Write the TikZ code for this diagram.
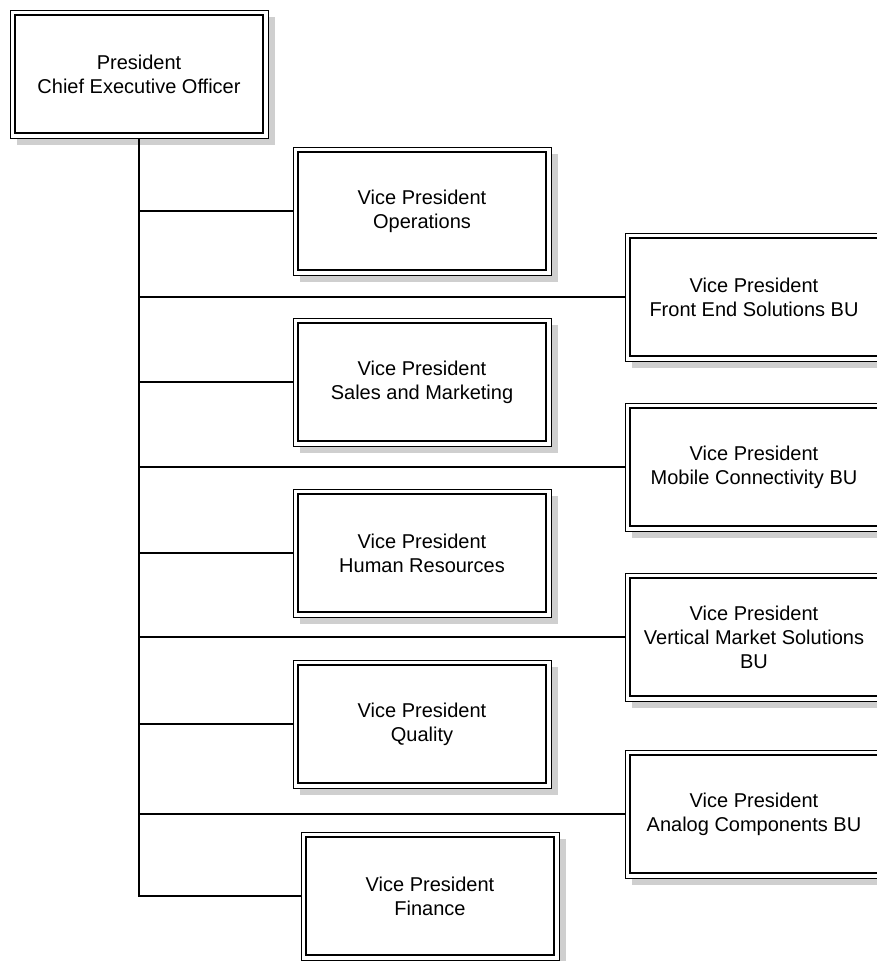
\documentclass[tikz,border=0pt]{standalone}
\usepackage{fontspec}
\setmainfont{Liberation Sans}
\usetikzlibrary{shadows}

\tikzset{
  vpbox/.style={draw, fill=white, line width=1pt,
    minimum width=258pt, minimum height=128pt, inner sep=0pt, outer sep=0.5pt,
    align=center, font=\fontsize{20}{24}\selectfont,
    path picture={\draw[line width=2pt]
      ([shift={(5pt,5pt)}]path picture bounding box.south west) rectangle
      ([shift={(-5pt,-5pt)}]path picture bounding box.north east);},
    drop shadow={shadow xshift=7pt, shadow yshift=-7pt, fill=black!19, opacity=1}},
  branch/.style={line width=1.5pt}
}

\begin{document}
\begin{tikzpicture}[x=1pt,y=-1pt]
\useasboundingbox (0,0) rectangle (876,961);

% draw boxes
\node[vpbox] (ceo) at (139,74) {President\\Chief Executive Officer};
\node[vpbox] (ops) at (422,211) {Vice President\\Operations};
\node[vpbox] (fes) at (754,297) {Vice President\\Front End Solutions BU};
\node[vpbox] (sales) at (422,382) {Vice President\\Sales and Marketing};
\node[vpbox] (mob) at (754,467) {Vice President\\Mobile Connectivity BU};
\node[vpbox] (hr) at (422,553) {Vice President\\Human Resources};
\node[vpbox] (vms) at (754,637) {Vice President\\Vertical Market Solutions\\BU};
\node[vpbox] (qual) at (422,724) {Vice President\\Quality};
\node[vpbox] (acb) at (754,814) {Vice President\\Analog Components BU};
\node[vpbox] (fin) at (430,896) {Vice President\\Finance};

% draw connectors
\foreach \vp in {ops,fes,sales,mob,hr,vms,qual,acb,fin}
\draw[branch] (ceo.south) |- (\vp.west);

\end{tikzpicture}
\end{document}
